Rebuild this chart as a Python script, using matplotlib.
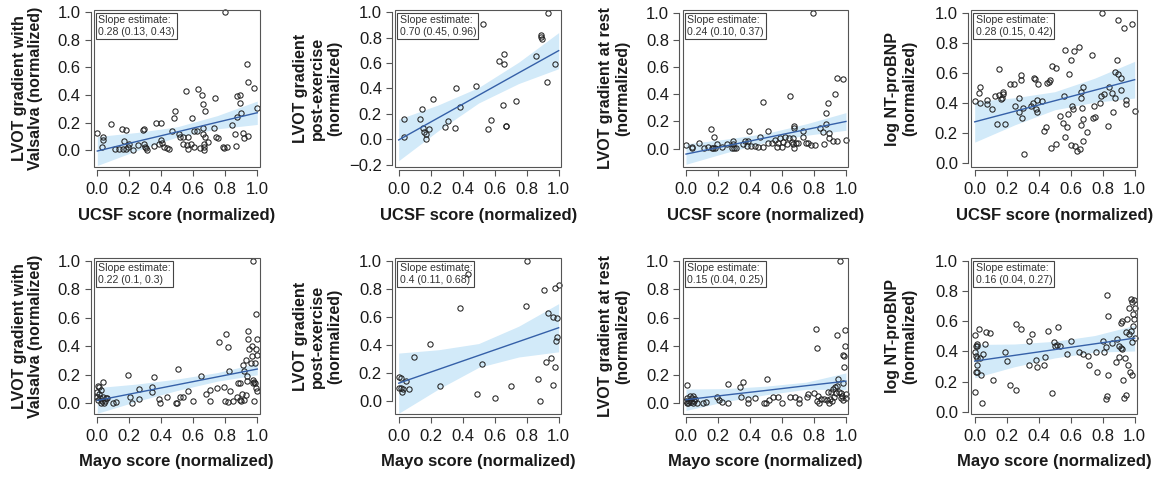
import numpy as np
import matplotlib
matplotlib.use("Agg")
import matplotlib.pyplot as plt
from matplotlib.patches import Rectangle

plt.rcParams["font.family"] = ["Liberation Sans", "DejaVu Sans"]

# ---- data ------------------------------------------------------------------
# row 1: UCSF score
ucsf_valsalva_x = [0.0, 0.033, 0.033, 0.031, 0.083, 0.11, 0.138, 0.152, 0.177, 0.167, 0.158, 0.179,
                   0.194, 0.2, 0.221, 0.256, 0.283, 0.292, 0.294, 0.298, 0.308, 0.304, 0.354, 0.365,
                   0.396, 0.396, 0.388, 0.402, 0.417, 0.433, 0.45, 0.465, 0.479, 0.485, 0.513, 0.517,
                   0.533, 0.533, 0.554, 0.569, 0.563, 0.569, 0.583, 0.59, 0.604, 0.604, 0.621, 0.631,
                   0.642, 0.652, 0.663, 0.658, 0.663, 0.667, 0.667, 0.673, 0.673, 0.667, 0.694, 0.735,
                   0.731, 0.742, 0.756, 0.783, 0.792, 0.798, 0.808, 0.84, 0.86, 0.865, 0.871, 0.875,
                   0.892, 0.892, 0.896, 0.913, 0.917, 0.933, 0.944, 0.944, 0.981, 0.996]
ucsf_valsalva_y = [0.126, 0.097, 0.073, 0.019, 0.191, 0.007, 0.007, 0.153, 0.145, 0.068, 0.007, 0.007,
                   0.024, 0.044, 0.0, 0.036, 0.145, 0.15, 0.044, 0.024, 0.0, 0.012, 0.031, 0.199,
                   0.194, 0.073, 0.044, 0.048, 0.024, 0.017, 0.01, 0.138, 0.23, 0.286, 0.116, 0.092,
                   0.097, 0.044, 0.431, 0.097, 0.036, 0.007, 0.044, 0.23, 0.024, 0.136, 0.136, 0.443,
                   0.017, 0.4, 0.334, 0.157, 0.116, 0.044, 0.0, 0.286, 0.097, 0.024, 0.06, 0.375,
                   0.157, 0.092, 0.085, 0.024, 0.017, 1.0, 0.024, 0.182, 0.116, 0.029, 0.392, 0.242,
                   0.4, 0.339, 0.271, 0.126, 0.09, 0.625, 0.492, 0.102, 0.448, 0.303]

ucsf_exercise_x = [0.031, 0.031, 0.135, 0.148, 0.152, 0.16, 0.171, 0.173, 0.192, 0.215, 0.287, 0.306,
                   0.352, 0.36, 0.383, 0.481, 0.529, 0.558, 0.579, 0.625, 0.654, 0.66, 0.66, 0.671,
                   0.673, 0.733, 0.86, 0.887, 0.89, 0.894, 0.927, 0.935, 0.979]
ucsf_exercise_y = [0.16, 0.018, 0.16, 0.236, 0.092, 0.06, 0.039, 0.0, 0.084, 0.315, 0.1, 0.147,
                   0.087, 0.404, 0.257, 0.423, 0.908, 0.081, 0.155, 0.617, 0.273, 0.672, 0.591, 0.108,
                   0.105, 0.304, 0.659, 0.822, 0.808, 0.787, 0.454, 0.997, 0.591]

ucsf_rest_x = [0.0, 0.035, 0.035, 0.083, 0.113, 0.14, 0.154, 0.16, 0.171, 0.177, 0.181, 0.196, 0.223,
               0.258, 0.285, 0.296, 0.296, 0.3, 0.313, 0.358, 0.369, 0.39, 0.396, 0.379, 0.404, 0.431,
               0.452, 0.463, 0.483, 0.483, 0.515, 0.515, 0.535, 0.556, 0.567, 0.577, 0.588, 0.598,
               0.604, 0.619, 0.629, 0.646, 0.652, 0.66, 0.667, 0.671, 0.675, 0.677, 0.675, 0.688,
               0.702, 0.733, 0.733, 0.75, 0.765, 0.792, 0.779, 0.808, 0.838, 0.858, 0.863, 0.873,
               0.875, 0.89, 0.896, 0.896, 0.917, 0.933, 0.942, 0.946, 0.983, 0.998]
ucsf_rest_y = [0.027, 0.015, 0.002, 0.044, 0.007, 0.015, 0.147, 0.002, 0.007, 0.088, 0.007, 0.034, 0.01,
               0.032, 0.002, 0.059, 0.034, 0.002, 0.007, 0.034, 0.059, 0.059, 0.132, 0.022, 0.022, 0.022,
               0.015, 0.088, 0.341, 0.015, 0.132, 0.039, 0.039, 0.064, 0.015, 0.039, 0.081, 0.015,
               0.051, 0.088, 0.034, 0.081, 0.387, 0.051, 0.081, 0.034, 0.167, 0.15, 0.007, 0.039,
               0.039, 0.132, 0.088, 0.044, 0.044, 1.0, 0.029, 0.029, 0.154, 0.125, 0.034, 0.26,
               0.179, 0.333, 0.113, 0.076, 0.059, 0.402, 0.517, 0.059, 0.512, 0.064]

ucsf_bnp_x = [0.0, 0.029, 0.033, 0.033, 0.079, 0.079, 0.111, 0.128, 0.138, 0.149, 0.155, 0.163, 0.169,
              0.176, 0.18, 0.19, 0.218, 0.243, 0.255, 0.28, 0.28, 0.289, 0.291, 0.295, 0.301, 0.308,
              0.351, 0.364, 0.372, 0.38, 0.383, 0.389, 0.395, 0.389, 0.42, 0.435, 0.446, 0.452, 0.462,
              0.473, 0.479, 0.483, 0.51, 0.51, 0.531, 0.552, 0.561, 0.563, 0.567, 0.577, 0.584, 0.59,
              0.603, 0.603, 0.609, 0.615, 0.623, 0.63, 0.64, 0.653, 0.661, 0.665, 0.665, 0.667, 0.672,
              0.678, 0.678, 0.678, 0.699, 0.734, 0.741, 0.745, 0.755, 0.782, 0.787, 0.793, 0.808,
              0.833, 0.839, 0.86, 0.866, 0.874, 0.877, 0.891, 0.895, 0.897, 0.912, 0.916, 0.933,
              0.944, 0.944, 0.981, 1.0]
ucsf_bnp_y = [0.414, 0.469, 0.509, 0.399, 0.421, 0.393, 0.36, 0.447, 0.261, 0.627, 0.454, 0.43, 0.432,
              0.476, 0.463, 0.261, 0.529, 0.529, 0.382, 0.338, 0.432, 0.55, 0.583, 0.3, 0.364, 0.059,
              0.377, 0.397, 0.568, 0.561, 0.36, 0.338, 0.524, 0.421, 0.414, 0.211, 0.243, 0.531, 0.539,
              0.55, 0.101, 0.645, 0.634, 0.129, 0.311, 0.265, 0.447, 0.75, 0.173, 0.239, 0.327, 0.596,
              0.684, 0.118, 0.382, 0.36, 0.743, 0.114, 0.079, 0.77, 0.096, 0.254, 0.432, 0.474, 0.366,
              0.294, 0.509, 0.145, 0.206, 0.721, 0.298, 0.382, 0.309, 0.397, 0.447, 1.0, 0.458,
              0.25, 0.509, 0.469, 0.338, 0.605, 0.432, 0.684, 0.952, 0.59, 0.568, 0.487, 0.897,
              0.421, 0.393, 0.925, 0.349]

# row 2: Mayo score
mayo_valsalva_x = [0.0, 0.0, 0.002, 0.006, 0.01, 0.017, 0.021, 0.023, 0.029, 0.033, 0.038, 0.042, 0.048,
                   0.054, 0.063, 0.013, 0.096, 0.115, 0.194, 0.204, 0.219, 0.26, 0.26, 0.34, 0.344,
                   0.356, 0.388, 0.392, 0.433, 0.49, 0.5, 0.502, 0.517, 0.533, 0.569, 0.6, 0.648, 0.679,
                   0.704, 0.704, 0.75, 0.758, 0.792, 0.798, 0.806, 0.815, 0.819, 0.825, 0.829, 0.85,
                   0.871, 0.881, 0.892, 0.892, 0.898, 0.906, 0.913, 0.917, 0.919, 0.929, 0.929, 0.933,
                   0.938, 0.94, 0.94, 0.95, 0.958, 0.965, 0.969, 0.971, 0.971, 0.975, 0.979, 0.981,
                   0.985, 0.985, 0.99, 0.992, 0.996, 0.992, 1.0, 0.996]
mayo_valsalva_y = [0.082, 0.047, 0.023, 0.121, 0.065, 0.035, 0.005, 0.093, 0.019, 0.152, 0.047, 0.0, 0.019,
                   0.037, 0.035, 0.117, 0.0, 0.009, 0.199, 0.047, 0.005, 0.098, 0.028, 0.117, 0.082,
                   0.182, 0.028, 0.0, 0.047, 0.005, 0.005, 0.241, 0.047, 0.047, 0.089, 0.019, 0.192, 0.063,
                   0.093, 0.019, 0.11, 0.428, 0.117, 0.019, 0.486, 0.012, 0.397, 0.227, 0.089, 0.019,
                   0.047, 0.145, 0.145, 0.023, 0.019, 0.065, 0.269, 0.229, 0.023, 0.304, 0.058, 0.159,
                   0.192, 0.509, 0.449, 0.379, 0.285, 0.332, 0.402, 0.164, 0.14, 1.0, 0.019, 0.152,
                   0.285, 0.14, 0.379, 0.626, 0.449, 0.105, 0.339, 0.089]

mayo_exercise_x = [0.0, 0.013, 0.002, 0.015, 0.019, 0.025, 0.046, 0.067, 0.098, 0.194, 0.258, 0.385,
                   0.431, 0.492, 0.519, 0.6, 0.704, 0.798, 0.804, 0.873, 0.883, 0.91, 0.921, 0.935,
                   0.95, 0.963, 0.963, 0.979, 0.979, 0.988, 0.981, 0.992, 1.0]
mayo_exercise_y = [0.167, 0.16, 0.088, 0.088, 0.064, 0.081, 0.143, 0.081, 0.314, 0.407, 0.105, 0.662,
                   0.905, 0.045, 0.26, 0.021, 0.105, 0.676, 1.0, 0.155, 0.0, 0.79, 0.274, 0.624,
                   0.302, 0.595, 0.112, 0.807, 0.238, 0.593, 0.426, 0.452, 0.826]

mayo_rest_x = [0.008, 0.0, 0.004, 0.008, 0.015, 0.021, 0.025, 0.029, 0.035, 0.042, 0.046, 0.05, 0.056,
               0.067, 0.104, 0.123, 0.196, 0.208, 0.223, 0.263, 0.265, 0.34, 0.342, 0.358, 0.39, 0.39,
               0.431, 0.488, 0.5, 0.504, 0.521, 0.542, 0.577, 0.602, 0.65, 0.681, 0.706, 0.708, 0.758,
               0.765, 0.802, 0.81, 0.817, 0.821, 0.825, 0.833, 0.842, 0.863, 0.883, 0.89, 0.896, 0.9,
               0.904, 0.91, 0.917, 0.925, 0.931, 0.938, 0.942, 0.946, 0.952, 0.958, 0.963, 0.967,
               0.969, 0.973, 0.979, 0.983, 0.983, 0.988, 0.99, 0.994, 0.994, 0.998, 1.0]
mayo_rest_y = [0.129, 0.019, 0.005, 0.035, 0.0, 0.019, 0.051, 0.007, 0.035, 0.051, 0.0, 0.019, 0.028,
               0.005, 0.005, 0.012, 0.047, 0.023, 0.012, 0.136, 0.005, 0.112, 0.042, 0.152, 0.028, 0.0,
               0.035, 0.005, 0.005, 0.171, 0.023, 0.047, 0.042, 0.005, 0.042, 0.042, 0.028, 0.005, 0.047,
               0.063, 0.07, 0.519, 0.016, 0.386, 0.054, 0.005, 0.028, 0.028, 0.023, 0.082, 0.0, 0.028,
               0.082, 0.016, 0.098, 0.042, 0.117, 0.075, 0.479, 0.121, 0.168, 0.082, 1.0, 0.035,
               0.075, 0.051, 0.14, 0.339, 0.023, 0.257, 0.332, 0.514, 0.402, 0.065, 0.035]

mayo_bnp_x = [0.0, 0.002, 0.004, 0.008, 0.008, 0.008, 0.013, 0.013, 0.017, 0.017, 0.017, 0.029, 0.033,
              0.04, 0.044, 0.05, 0.065, 0.071, 0.096, 0.113, 0.19, 0.201, 0.218, 0.259, 0.259, 0.289,
              0.337, 0.341, 0.358, 0.385, 0.389, 0.435, 0.441, 0.456, 0.483, 0.494, 0.504, 0.515,
              0.521, 0.536, 0.577, 0.603, 0.651, 0.678, 0.707, 0.713, 0.759, 0.766, 0.803, 0.808,
              0.818, 0.818, 0.824, 0.828, 0.835, 0.835, 0.856, 0.881, 0.891, 0.902, 0.902, 0.912,
              0.916, 0.918, 0.923, 0.929, 0.933, 0.937, 0.944, 0.948, 0.95, 0.958, 0.964, 0.967,
              0.971, 0.975, 0.979, 0.981, 0.981, 0.985, 0.992, 0.992, 0.996, 1.0, 1.0, 0.994]
mayo_bnp_y = [0.397, 0.507, 0.131, 0.437, 0.371, 0.262, 0.354, 0.448, 0.432, 0.306, 0.262, 0.55, 0.354,
              0.245, 0.061, 0.382, 0.448, 0.528, 0.524, 0.212, 0.393, 0.338, 0.175, 0.583, 0.146, 0.55,
              0.306, 0.469, 0.513, 0.345, 0.295, 0.31, 0.36, 0.535, 0.124, 0.459, 0.432, 0.441,
              0.563, 0.432, 0.382, 0.469, 0.397, 0.382, 0.367, 0.31, 0.397, 0.262, 0.469, 0.393,
              0.087, 0.426, 0.769, 0.105, 0.633, 0.24, 0.454, 0.328, 0.48, 0.36, 0.437, 0.419,
              0.59, 0.415, 0.6, 0.212, 0.092, 0.354, 0.528, 0.114, 0.611, 0.306, 0.513, 0.688,
              0.266, 0.535, 0.747, 0.725, 0.245, 0.463, 0.644, 0.568, 0.611, 0.485, 0.688, 0.742]

# fitted line and confidence band, read at these x positions
fit_x = [0.0, 0.25, 0.5, 0.75, 1.0]
ucsf_valsalva_fit = [-0.007, 0.063, 0.132, 0.202, 0.271]
ucsf_valsalva_lo = [-0.112, -0.003, 0.095, 0.154, 0.186]
ucsf_valsalva_hi = [0.098, 0.128, 0.169, 0.250, 0.356]
ucsf_exercise_fit = [-0.005, 0.171, 0.347, 0.523, 0.698]
ucsf_exercise_lo = [-0.168, 0.070, 0.286, 0.439, 0.556]
ucsf_exercise_hi = [0.158, 0.272, 0.408, 0.607, 0.840]
ucsf_rest_fit = [-0.040, 0.020, 0.080, 0.140, 0.200]
ucsf_rest_lo = [-0.115, -0.030, 0.048, 0.098, 0.135]
ucsf_rest_hi = [0.035, 0.070, 0.112, 0.182, 0.265]
ucsf_bnp_fit = [0.275, 0.345, 0.415, 0.485, 0.555]
ucsf_bnp_lo = [0.140, 0.255, 0.355, 0.405, 0.433]
ucsf_bnp_hi = [0.410, 0.435, 0.475, 0.565, 0.677]
mayo_valsalva_fit = [0.020, 0.075, 0.130, 0.185, 0.240]
mayo_valsalva_lo = [-0.070, 0.015, 0.090, 0.155, 0.200]
mayo_valsalva_hi = [0.110, 0.135, 0.170, 0.215, 0.280]
mayo_exercise_fit = [0.125, 0.224, 0.323, 0.422, 0.521]
mayo_exercise_lo = [-0.090, 0.084, 0.238, 0.312, 0.349]
mayo_exercise_hi = [0.340, 0.364, 0.408, 0.532, 0.693]
mayo_rest_fit = [0.025, 0.058, 0.090, 0.123, 0.155]
mayo_rest_lo = [-0.050, 0.013, 0.060, 0.098, 0.097]
mayo_rest_hi = [0.100, 0.103, 0.120, 0.148, 0.213]
mayo_bnp_fit = [0.335, 0.373, 0.411, 0.449, 0.487]
mayo_bnp_lo = [0.225, 0.298, 0.356, 0.394, 0.402]
mayo_bnp_hi = [0.445, 0.448, 0.466, 0.504, 0.572]

slope_labels = ["0.28 (0.13, 0.43)", "0.70 (0.45, 0.96)", "0.24 (0.10, 0.37)", "0.28 (0.15, 0.42)",
                "0.22 (0.1, 0.3)", "0.4 (0.11, 0.68)", "0.15 (0.04, 0.25)", "0.16 (0.04, 0.27)"]
y_titles = ["LVOT gradient with\nValsalva (normalized)", "LVOT gradient\npost-exercise\n(normalized)",
            "LVOT gradient at rest\n(normalized)", "log NT-proBNP\n(normalized)"]
x_titles = ["UCSF score (normalized)", "Mayo score (normalized)"]
y_tick_start = [0.0, -0.2, 0.0, 0.0, 0.0, 0.0, 0.0, 0.0]

# ---- layout (pixels) --------------------------------------------------------
W, H = 1164, 479
col_left = [94, 395.4, 682.7, 971.4]
col_width = 165.5
row_top = [10, 258]
row_bottom = [167, 414]
ylabel_x = [-0.402, -0.47, -0.415, -0.425]
ylims = [(-0.123, 1.017), (-0.218, 1.018), (-0.135, 1.02), (-0.025, 1.018),
         (-0.075, 1.018), (-0.095, 1.019), (-0.075, 1.018), (-0.015, 1.017)]

panels = [
    (ucsf_valsalva_x, ucsf_valsalva_y, ucsf_valsalva_fit, ucsf_valsalva_lo, ucsf_valsalva_hi),
    (ucsf_exercise_x, ucsf_exercise_y, ucsf_exercise_fit, ucsf_exercise_lo, ucsf_exercise_hi),
    (ucsf_rest_x, ucsf_rest_y, ucsf_rest_fit, ucsf_rest_lo, ucsf_rest_hi),
    (ucsf_bnp_x, ucsf_bnp_y, ucsf_bnp_fit, ucsf_bnp_lo, ucsf_bnp_hi),
    (mayo_valsalva_x, mayo_valsalva_y, mayo_valsalva_fit, mayo_valsalva_lo, mayo_valsalva_hi),
    (mayo_exercise_x, mayo_exercise_y, mayo_exercise_fit, mayo_exercise_lo, mayo_exercise_hi),
    (mayo_rest_x, mayo_rest_y, mayo_rest_fit, mayo_rest_lo, mayo_rest_hi),
    (mayo_bnp_x, mayo_bnp_y, mayo_bnp_fit, mayo_bnp_lo, mayo_bnp_hi),
]

frame_col = "#555555"
text_col = "#1a1a1a"

fig = plt.figure(figsize=(W / 100, H / 100), dpi=100)

for i, (px, py, fit, lo, hi) in enumerate(panels):
    row, col = divmod(i, 4)
    left = col_left[col] / W
    bottom = (H - row_bottom[row]) / H
    height = (row_bottom[row] - row_top[row]) / H
    ax = fig.add_axes([left, bottom, col_width / W, height])

    ax.fill_between(fit_x, lo, hi, color="#d2eaf9", lw=0, zorder=1)
    ax.plot(px, py, "o", ms=3.8, mfc="none", mec="#222222", mew=0.75, zorder=3, clip_on=False)
    ax.plot(fit_x, fit, color="#3560a8", lw=1.0, zorder=4)

    ax.set_xlim(-0.0206, 1.014)
    ax.set_ylim(*ylims[i])
    yt = np.arange(y_tick_start[i], 1.01, 0.2)
    ax.set_yticks(yt)
    ax.set_yticklabels([f"{v:.1f}".replace("-", "\u2212") for v in yt])
    ax.set_xticks(np.arange(0, 1.01, 0.2))
    ax.set_xticklabels([f"{v:.1f}" for v in np.arange(0, 1.01, 0.2)])

    # R-like: detached axis lines plus a full box
    for s in ["top", "right"]:
        ax.spines[s].set_visible(False)
    for s in ["left", "bottom"]:
        ax.spines[s].set_position(("outward", 2.5))
        ax.spines[s].set_color(frame_col)
        ax.spines[s].set_linewidth(0.8)
    ax.spines["bottom"].set_bounds(0, 1)
    ax.spines["left"].set_bounds(yt[0], 1.0)
    ax.add_patch(Rectangle((0, 0), 1, 1, transform=ax.transAxes, fill=False,
                           ec=frame_col, lw=0.8, zorder=5, clip_on=False))
    ax.tick_params(direction="out", length=4, width=0.8, color=frame_col,
                   labelsize=12, labelcolor=text_col)
    ax.tick_params(axis="x", pad=4.5)
    ax.tick_params(axis="y", pad=3.2)

    ax.text(0.025, 0.966, "Slope estimate:\n" + slope_labels[i], transform=ax.transAxes,
            ha="left", va="top", fontsize=7.6, color="#333333", linespacing=1.15, zorder=2,
            bbox=dict(boxstyle="square,pad=0.2", fc="white", ec="#444444", lw=0.8))

    ax.text(ylabel_x[col], 0.5, y_titles[col], transform=ax.transAxes, rotation=90,
            ha="center", va="center", multialignment="center", fontsize=11.5,
            fontweight="bold", color=text_col, linespacing=1.15)
    ax.text(0.5, -0.306, x_titles[row], transform=ax.transAxes, ha="center", va="center",
            fontsize=12, fontweight="bold", color=text_col)

fig.savefig("out.png", dpi=100)
